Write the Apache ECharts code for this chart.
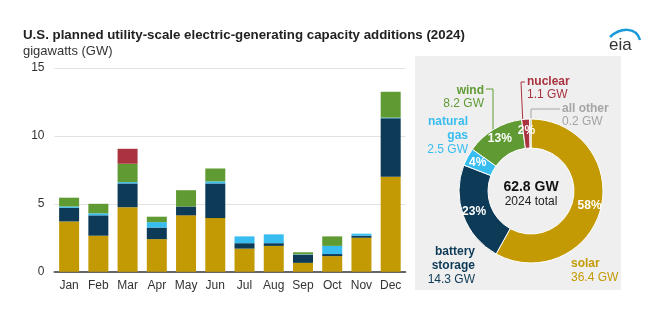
<!DOCTYPE html>
<html>
<head>
<meta charset="utf-8">
<script src="https://cdn.jsdelivr.net/npm/echarts@6/dist/echarts.min.js"></script>
<style>
html,body{margin:0;padding:0;background:#fff;}
#c{width:655px;height:324px;}
</style>
</head>
<body>
<div id="c"></div>
<script>
// ---- data ----
var months = ['Jan','Feb','Mar','Apr','May','Jun','Jul','Aug','Sep','Oct','Nov','Dec'];
var solar   = [3.7, 2.65, 4.75, 2.4, 4.15, 3.95, 1.7, 1.9, 0.65, 1.15, 2.5, 7.0];
var battery = [1.0, 1.5, 1.75, 0.85, 0.65, 2.55, 0.4, 0.2, 0.6, 0.15, 0.15, 4.3];
var gas     = [0.1, 0.15, 0.1, 0.4, 0.0, 0.15, 0.5, 0.65, 0.03, 0.6, 0.15, 0.05];
var wind    = [0.65, 0.7, 1.35, 0.4, 1.2, 0.95, 0.0, 0.0, 0.15, 0.7, 0.0, 1.9];
var nuclear = [0, 0, 1.1, 0, 0, 0, 0, 0, 0, 0, 0, 0];
var yTicks = [0, 5, 10, 15];

var pieNames  = ['solar', 'battery storage', 'natural gas', 'wind', 'nuclear', 'all other'];
var pieValues = [36.4, 14.3, 2.5, 8.2, 1.1, 0.2];
var totalGW = 62.8;

var titleText = 'U.S. planned utility-scale electric-generating capacity additions (2024)';
var unitText = 'gigawatts (GW)';

// ---- styles ----
var C = {
  solar: '#c49a04',
  battery: '#0d3a56',
  gas: '#38bdf0',
  wind: '#5f9a33',
  nuclear: '#a9333f',
  other: '#a5a5a5'
};
var pieColors = [C.solar, C.battery, C.gas, C.wind, C.nuclear, C.other];
var FONT = '"Liberation Sans", Arial, sans-serif';

function barSeries(name, data, color) {
  return {
    name: name, type: 'bar', stack: 'total', data: data,
    barWidth: 20, itemStyle: { color: color }, silent: true
  };
}

var total = pieValues.reduce(function(a,b){return a+b;},0);
function pct(i){ return Math.round(pieValues[i] / total * 100) + '%'; }
function gwText(i){ return pieValues[i].toFixed(1) + ' GW'; }

var chart = echarts.init(document.getElementById('c'), null, {renderer: 'canvas'});

var graphics = [
  { type: 'rect', z: -10, shape: {x: 415, y: 56, width: 206, height: 234}, style: {fill: '#efefef'} },
  // title
  { type: 'text', left: 23, top: 29, style: { text: titleText, font: 'bold 13.3px ' + FONT, fill: '#222' } },
  { type: 'text', left: 23, top: 45, style: { text: unitText, font: '13px ' + FONT, fill: '#333' } },
  // eia logo
  { type: 'bezierCurve', shape: {x1: 610, y1: 37, cpx1: 620, cpy1: 28, cpx2: 636, cpy2: 26, x2: 640, y2: 40},
    style: { stroke: '#1a9bd7', lineWidth: 2.5, fill: null } },
  { type: 'text', x: 609, y: 37, style: { text: 'eia', font: '17px ' + FONT, fill: '#333' } },
  // donut center
  { type: 'text', x: 531, y: 187, style: { text: totalGW.toFixed(1) + ' GW', font: 'bold 14px ' + FONT, fill: '#111', align: 'center', verticalAlign: 'middle' } },
  { type: 'text', x: 531, y: 202, style: { text: '2024 total', font: '12px ' + FONT, fill: '#222', align: 'center', verticalAlign: 'middle' } },
  // wind
  { type: 'text', x: 484, y: 91, style: { text: pieNames[3], font: 'bold 12px ' + FONT, fill: C.wind, align: 'right', verticalAlign: 'middle' } },
  { type: 'text', x: 484, y: 104, style: { text: gwText(3), font: '12px ' + FONT, fill: C.wind, align: 'right', verticalAlign: 'middle' } },
  { type: 'polyline', shape: {points: [[486, 89], [493, 89], [493, 132]]}, style: { stroke: C.wind, lineWidth: 1, fill: null } },
  // natural gas
  { type: 'text', x: 468, y: 122, style: { text: 'natural', font: 'bold 12px ' + FONT, fill: C.gas, align: 'right', verticalAlign: 'middle' } },
  { type: 'text', x: 468, y: 136, style: { text: 'gas', font: 'bold 12px ' + FONT, fill: C.gas, align: 'right', verticalAlign: 'middle' } },
  { type: 'text', x: 468, y: 149.5, style: { text: gwText(2), font: '12px ' + FONT, fill: C.gas, align: 'right', verticalAlign: 'middle' } },
  // nuclear
  { type: 'text', x: 527, y: 82, style: { text: pieNames[4], font: 'bold 12px ' + FONT, fill: C.nuclear, align: 'left', verticalAlign: 'middle' } },
  { type: 'text', x: 527, y: 95, style: { text: gwText(4), font: '12px ' + FONT, fill: C.nuclear, align: 'left', verticalAlign: 'middle' } },
  { type: 'polyline', shape: {points: [[525, 82], [521, 82], [523, 126]]}, style: { stroke: C.nuclear, lineWidth: 1, fill: null } },
  // all other
  { type: 'text', x: 562, y: 109, style: { text: pieNames[5], font: 'bold 12px ' + FONT, fill: C.other, align: 'left', verticalAlign: 'middle' } },
  { type: 'text', x: 562, y: 122, style: { text: gwText(5), font: '12px ' + FONT, fill: C.other, align: 'left', verticalAlign: 'middle' } },
  { type: 'polyline', shape: {points: [[560, 109], [531, 109], [531, 124]]}, style: { stroke: C.other, lineWidth: 1, fill: null } },
  // battery storage
  { type: 'text', x: 475, y: 252, style: { text: 'battery', font: 'bold 12px ' + FONT, fill: C.battery, align: 'right', verticalAlign: 'middle' } },
  { type: 'text', x: 475, y: 265.5, style: { text: 'storage', font: 'bold 12px ' + FONT, fill: C.battery, align: 'right', verticalAlign: 'middle' } },
  { type: 'text', x: 475, y: 280, style: { text: gwText(1), font: '12px ' + FONT, fill: C.battery, align: 'right', verticalAlign: 'middle' } },
  // solar
  { type: 'text', x: 571, y: 263.5, style: { text: pieNames[0], font: 'bold 12px ' + FONT, fill: C.solar, align: 'left', verticalAlign: 'middle' } },
  { type: 'text', x: 571, y: 277.5, style: { text: gwText(0), font: '12px ' + FONT, fill: C.solar, align: 'left', verticalAlign: 'middle' } }
];

var option = {
  animation: false,
  backgroundColor: '#fff',
  textStyle: { fontFamily: FONT },
  grid: { left: 54.5, right: 249.7, top: 68, bottom: 52.3, containLabel: false },
  xAxis: {
    type: 'category', data: months,
    axisLine: { lineStyle: { color: '#666', width: 2 } },
    axisTick: { show: false },
    axisLabel: { color: '#333', fontSize: 12, margin: 8, fontFamily: FONT, interval: 0 }
  },
  yAxis: {
    type: 'value', min: yTicks[0], max: yTicks[yTicks.length - 1], interval: 5,
    axisLine: { show: false }, axisTick: { show: false },
    axisLabel: { color: '#333', fontSize: 12, margin: 10, fontFamily: FONT },
    splitLine: { lineStyle: { color: '#e2e2e2', width: 1 } }
  },
  series: [
    barSeries('solar', solar, C.solar),
    barSeries('battery storage', battery, C.battery),
    barSeries('natural gas', gas, C.gas),
    barSeries('wind', wind, C.wind),
    barSeries('nuclear', nuclear, C.nuclear),
    {
      type: 'pie', center: [531, 191], radius: [43, 72],
      startAngle: 90, clockwise: true, silent: true,
      itemStyle: { borderColor: '#fff', borderWidth: 1 },
      label: {
        show: true, position: 'inside', color: '#fff', fontWeight: 'bold', fontSize: 12, fontFamily: FONT,
        formatter: function (p) { return p.dataIndex === 5 ? '' : pct(p.dataIndex); }
      },
      labelLine: { show: false },
      data: pieNames.map(function (n, i) {
        return { name: n, value: pieValues[i], itemStyle: { color: pieColors[i] } };
      })
    }
  ],
  graphic: graphics
};
chart.setOption(option);
</script>
</body>
</html>
